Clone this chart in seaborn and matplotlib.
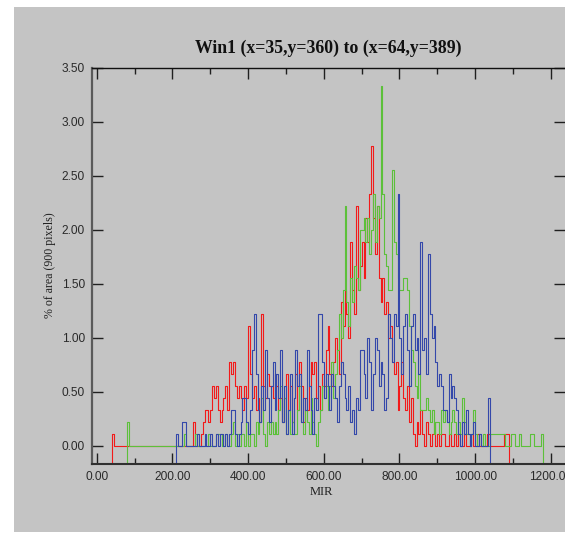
import numpy as np
import pandas as pd
import matplotlib
matplotlib.use("Agg")
import matplotlib.pyplot as plt
import seaborn as sns
from matplotlib.patches import Rectangle
from matplotlib.ticker import MultipleLocator, FormatStrFormatter

# ---------------- data (pixel counts per 5-unit MIR bin, 900 pixels total) ----------------
BIN_WIDTH = 5
TOTAL_PIXELS = 900

red_start = 40
red_counts = ([1] + [0] * 42 +
              [2, 0, 0, 0, 1, 2, 3, 3, 2, 3, 5, 4, 5, 3, 2, 3, 4, 5, 3, 7, 6, 7, 5, 4, 5, 4, 3, 5, 4,
               10, 6, 4, 5, 3, 4, 2, 11, 5, 4, 6, 5, 5, 4, 6] +
              [5, 3, 4, 2, 4, 6, 3, 5, 2, 4, 6, 3, 7, 5, 2, 4, 3, 5, 7, 6, 7, 4, 5, 3, 6] +
              [5, 8, 10, 6, 5, 7, 9, 8, 6, 12, 10, 13, 11, 9, 17, 13, 11, 20, 13, 15] +
              [17, 14, 19, 17, 21, 25, 19, 16, 20, 14, 12, 14, 11, 12, 9, 10, 7, 6, 7, 3] +
              [5, 7, 4, 3, 5, 2, 4, 1, 0, 2, 1, 3, 1, 0, 2, 1, 0, 1, 2, 0] +
              [1, 0, 1, 1, 0, 0, 1, 0, 0, 1, 0, 1, 0, 0, 1, 0, 0, 0, 1, 0] +
              [0, 1, 0, 0, 0, 0, 1, 1, 0, 0, 0, 0, 0, 0, 0, 1, 1, 1])

green_start = 80
green_counts = ([2] + [0] * 29 + [1] +
                [0, 0, 0, 0, 0, 1, 0, 0, 0, 0, 0, 0, 1, 0, 0, 0, 1, 1, 1, 0] +
                [0, 1, 0, 0, 1, 2, 0, 1, 0, 1, 1, 0, 2, 0, 1, 1, 0, 2, 1, 2] +
                [4, 1, 0, 2, 1, 2, 1, 2, 1, 3, 5, 2, 4, 1, 3, 1, 2, 1, 1, 3] +
                [5, 2, 1, 3, 2, 1, 4, 2, 1, 0, 2, 3, 5, 4, 5, 3, 5, 7, 4, 6] +
                [8, 11, 9, 13, 20, 12, 10, 14, 12, 15, 14, 13, 18, 18, 19, 17, 19, 16, 18, 21] +
                [17, 20, 19, 30, 21, 16, 15, 13, 13, 23, 17, 16, 14, 13, 13, 14, 14, 13, 10, 8] +
                [7, 5, 4, 6, 3, 3, 3, 4, 3, 2, 3, 1, 2, 2, 1, 3, 2, 3, 2, 1] +
                [2, 3, 2, 1, 2, 1, 4, 2, 1, 1, 0, 1, 3, 1, 0, 1, 0, 1, 0, 0] +
                [0, 1, 1, 1, 1, 1, 1, 1, 1, 0, 0, 0, 1, 1, 0, 0, 1, 0, 0, 0,
                 0, 0, 1, 1, 0, 0, 0, 0, 1])

blue_start = 210
blue_counts = ([1, 0, 0, 2, 2, 0, 0, 0, 0, 0, 0, 1, 0, 0, 0, 1, 0, 0, 1, 0] +
               [0, 1, 0, 1, 1, 0, 1, 0, 1, 3, 3, 1, 0, 1, 2, 4, 4, 2, 1, 3] +
               [8, 11, 6, 3, 2, 5, 3, 8, 4, 2, 5, 7, 3, 6, 4, 8, 2, 5, 1, 3] +
               [6, 1, 4, 8, 5, 6, 2, 4, 3, 8, 5, 3, 1, 4, 3, 11, 11, 7, 4, 6] +
               [5, 3, 6, 5, 4, 2, 5, 7, 6, 4, 3, 5, 2, 3, 1, 4, 3, 8, 8, 6] +
               [4, 9, 7, 3, 6, 9, 8, 5, 7, 6, 3, 4, 11, 9, 7, 11, 10, 21, 9, 6] +
               [10, 11, 8, 5, 10, 11, 8, 9, 6, 17, 8, 9, 6, 16, 11, 9, 10, 7, 5, 6] +
               [5, 3, 3, 2, 6, 4, 5, 4, 3, 1, 0, 2, 1, 3, 1, 0, 1, 2, 0, 0] +
               [1, 0, 0, 0, 0, 4])

title = "Win1 (x=35,y=360) to (x=64,y=389)"
x_label = "MIR"
y_label = "% of area (900 pixels)"
x_ticks = [0, 200, 400, 600, 800, 1000, 1200]
y_ticks = [0.0, 0.5, 1.0, 1.5, 2.0, 2.5, 3.0, 3.5]

# ---------------- styling ----------------
XMIN, XMAX = -12.4, 1237.3
YMIN, YMAX = -1.0 / 6.0, 3.5
BG = "#c4c4c4"
colors = {"green": "#5cc03a", "red": "#f21a1a", "blue": "#3448aa"}

sns.set_theme(style="white")
plt.rcParams["font.family"] = ["Liberation Sans Narrow", "Liberation Sans", "DejaVu Sans"]


def step_frame(name, start, counts):
    counts = np.asarray(counts, dtype=float)
    pct = counts * 100.0 / TOTAL_PIXELS
    edges = start + BIN_WIDTH * np.arange(len(counts) + 1)
    base = YMIN - 0.2
    xs = np.concatenate([[edges[0]], edges[:-1], [edges[-1]]])
    ys = np.concatenate([[base], pct, [base]])
    return pd.DataFrame({"MIR": xs, "pct": ys, "series": name})


df = pd.concat([
    step_frame("red", red_start, red_counts),
    step_frame("green", green_start, green_counts),
    step_frame("blue", blue_start, blue_counts),
], ignore_index=True)

fig = plt.figure(figsize=(5.65, 5.33), dpi=100, facecolor="white")
fig.patches.append(Rectangle((14 / 565, 1 / 533), 1 - 14 / 565, (532 - 7) / 533,
                             transform=fig.transFigure, facecolor=BG, edgecolor="none", zorder=-10))

ax = fig.add_axes([92 / 565, 69 / 533, 1 - 92 / 565, (464 - 68) / 533])
ax.set_facecolor(BG)
ax.set_zorder(5)

sns.lineplot(data=df, x="MIR", y="pct", hue="series", hue_order=["red", "green", "blue"],
             palette=colors, estimator=None, sort=False, drawstyle="steps-post",
             legend=False, linewidth=0.8, ax=ax)

ax.set_xlim(XMIN, XMAX)
ax.set_ylim(YMIN, YMAX)

ax.xaxis.set_major_locator(plt.FixedLocator(x_ticks))
ax.xaxis.set_minor_locator(MultipleLocator(100))
ax.yaxis.set_major_locator(plt.FixedLocator(y_ticks))
ax.xaxis.set_major_formatter(FormatStrFormatter("%.2f"))
ax.yaxis.set_major_formatter(FormatStrFormatter("%.2f"))

ax.tick_params(axis="x", which="major", direction="in", length=8, width=1.0, color="#202020",
               top=True, bottom=True, labelsize=8.6, labelcolor="#2a2a2a", pad=5)
ax.tick_params(axis="x", which="minor", direction="in", length=4.5, width=1.0, color="#202020",
               top=True, bottom=True)
ax.tick_params(axis="y", which="major", direction="in", length=8, width=1.0, color="#202020",
               left=True, right=True, labelsize=8.6, labelcolor="#2a2a2a", pad=5)

for side in ["left", "bottom", "top"]:
    ax.spines[side].set_visible(True)
ax.spines["right"].set_visible(False)
ax.spines["left"].set_color("#5a5a5a")
ax.spines["left"].set_linewidth(1.6)
ax.spines["bottom"].set_color("#303030")
ax.spines["bottom"].set_linewidth(1.5)
ax.spines["top"].set_color("#101010")
ax.spines["top"].set_linewidth(1.0)

ax.set_xlabel("")
ax.set_ylabel("")

fig.text(328.5 / 565, 1 - 53 / 533, title, ha="center", va="baseline",
         fontsize=12.8, fontweight="bold", family=["Liberation Serif", "DejaVu Serif"], color="#111111")
fig.text(321 / 565, 1 - 492 / 533, x_label, ha="center", va="center",
         fontsize=9, family=["Liberation Serif", "DejaVu Serif"], color="#202020")
fig.text(50 / 565, 1 - 265 / 533, y_label, ha="center", va="center", rotation=90,
         fontsize=8.6, family=["Liberation Serif", "DejaVu Serif"], color="#202020")

fig.savefig("out.png", dpi=100, facecolor="white")
